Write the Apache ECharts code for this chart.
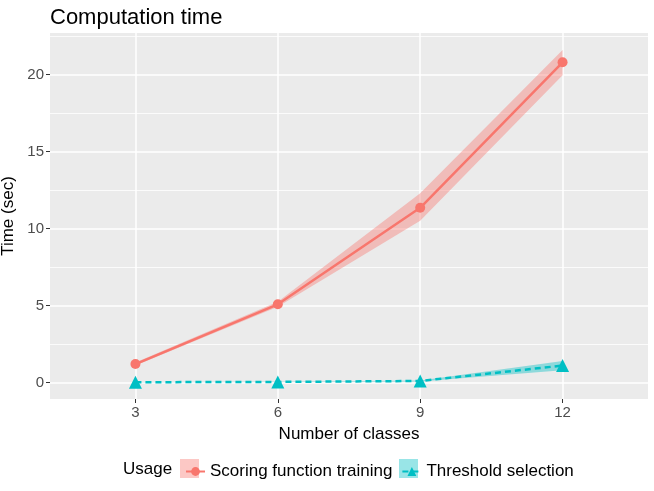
<!DOCTYPE html>
<html lang="en">
<head>
  <meta charset="UTF-8">
  <title>Computation time</title>
  <script src="https://cdn.jsdelivr.net/npm/echarts@6/dist/echarts.min.js"></script>
  <style>
    html, body { margin: 0; padding: 0; background: #fff; }
    #chart { width: 654px; height: 491px; }
  </style>
</head>
<body>
  <div id="chart"></div>
  <script>
    // data
    const classes = [3, 6, 9, 12];
    const xTicks = [3, 6, 9, 12];
    const yTicks = [0, 5, 10, 15, 20];
    const yMinorTicks = [2.5, 7.5, 12.5, 17.5, 22.5];

    const scoringMean = [1.2, 5.08, 11.35, 20.8];
    const scoringLow  = [1.1, 4.92, 10.5, 19.95];
    const scoringHigh = [1.3, 5.24, 12.3, 21.6];

    const thresholdMean = [0.02, 0.04, 0.1, 1.1];
    const thresholdLow  = [0.01, 0.03, 0.07, 0.8];
    const thresholdHigh = [0.03, 0.05, 0.13, 1.4];

    const RED = '#F8766D';
    const TEAL = '#00BFC4';
    const FONT = 'Liberation Sans, Arial, sans-serif';

    const pairs = (ys) => classes.map((x, i) => [x, ys[i]]);

    // ribbon drawn once as a polygon through the axis scales
    function ribbon(lo, hi, color) {
      const rows = classes.map((x, i) => [x, lo[i], hi[i]]);
      return {
        type: 'custom', silent: true, z: 1,
        data: rows,
        encode: { x: 0, y: [1, 2] },
        renderItem: function (params, api) {
          if (params.dataIndex !== 0) return null;
          const top = rows.map(r => api.coord([r[0], r[2]]));
          const bottom = rows.map(r => api.coord([r[0], r[1]])).reverse();
          return {
            type: 'polygon',
            shape: { points: top.concat(bottom) },
            style: { fill: color, opacity: 0.4 }
          };
        }
      };
    }

    const chart = echarts.init(document.getElementById('chart'));

    const option = {
      animation: false,
      backgroundColor: '#ffffff',
      title: {
        text: 'Computation time', left: 45, top: 2,
        textStyle: { fontFamily: FONT, fontSize: 22, fontWeight: 'normal', color: '#000' }
      },
      grid: {
        left: 50, right: 6, top: 33, bottom: 92,
        outerBoundsMode: 'none', containLabel: false,
        backgroundColor: '#EBEBEB', show: true, borderWidth: 0
      },
      xAxis: {
        type: 'value', min: 1.2, max: 13.8,
        name: 'Number of classes', nameLocation: 'middle', nameGap: 27,
        nameTextStyle: { fontFamily: FONT, fontSize: 17, color: '#000' },
        axisLine: { show: false, onZero: false },
        axisTick: { show: true, length: 4, customValues: xTicks, lineStyle: { color: '#333', width: 1 } },
        axisLabel: { customValues: xTicks, fontFamily: FONT, fontSize: 15, color: '#4D4D4D', margin: 6 },
        splitLine: { show: true, lineStyle: { color: '#fff', width: 1.5 } }
      },
      yAxis: [
        {
          type: 'value', min: -1.07, max: 22.7,
          name: 'Time (sec)', nameLocation: 'middle', nameGap: 26, nameRotate: 90,
          nameTextStyle: { fontFamily: FONT, fontSize: 17, color: '#000' },
          axisLine: { show: false, onZero: false },
          axisTick: { show: true, length: 4, customValues: yTicks, lineStyle: { color: '#333', width: 1 } },
          axisLabel: { customValues: yTicks, fontFamily: FONT, fontSize: 15, color: '#4D4D4D', margin: 6 },
          splitLine: { show: true, lineStyle: { color: '#fff', width: 1.5 } }
        },
        {
          type: 'value', min: -1.07, max: 22.7, position: 'left',
          axisLine: { show: false, onZero: false },
          axisTick: { show: false, customValues: yMinorTicks },
          axisLabel: { show: false, customValues: yMinorTicks },
          splitLine: { show: true, lineStyle: { color: '#fff', width: 0.8 } }
        }
      ],
      legend: {
        left: 180, top: 458, itemWidth: 19, itemHeight: 11, itemGap: 9,
        data: ['Scoring function training', 'Threshold selection'],
        textStyle: { fontFamily: FONT, fontSize: 17, color: '#000' }
      },
      graphic: [
        { type: 'text', left: 123, top: 461, style: { text: 'Usage', font: '17px ' + FONT, fill: '#000' } },
        { type: 'rect', shape: { x: 180, y: 459, width: 19, height: 19 }, style: { fill: RED, opacity: 0.4 }, z: -1 },
        { type: 'rect', shape: { x: 399, y: 459, width: 19, height: 19 }, style: { fill: TEAL, opacity: 0.4 }, z: -1 }
      ],
      series: [
        ribbon(scoringLow, scoringHigh, RED),
        ribbon(thresholdLow, thresholdHigh, TEAL),
        {
          name: 'Scoring function training', type: 'line', data: pairs(scoringMean),
          symbol: 'circle', symbolSize: 10,
          itemStyle: { color: RED }, lineStyle: { color: RED, width: 2.5 }, z: 3
        },
        {
          name: 'Threshold selection', type: 'line', data: pairs(thresholdMean),
          symbol: 'triangle', symbolSize: 13,
          itemStyle: { color: TEAL }, lineStyle: { color: TEAL, width: 2.5, type: [6, 4] }, z: 3
        }
      ]
    };

    chart.setOption(option);
  </script>
</body>
</html>
